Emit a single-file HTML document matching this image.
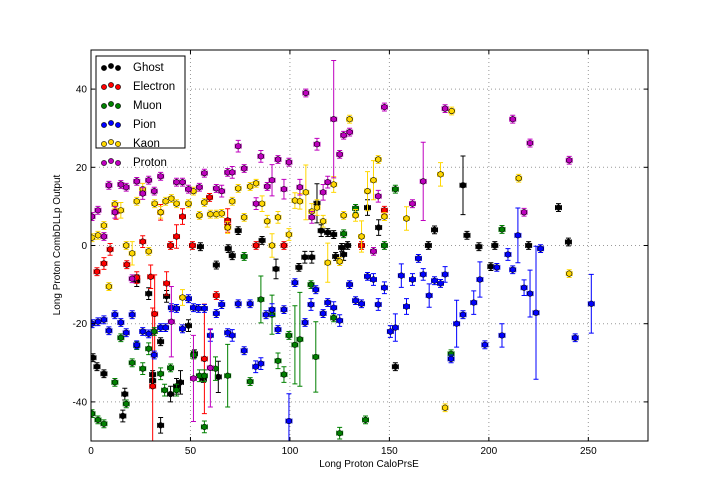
<!DOCTYPE html>
<html><head><meta charset="utf-8"><style>
html,body{margin:0;padding:0;background:#fff;}
svg{display:block;font-family:"Liberation Sans","DejaVu Sans",sans-serif;}
</style></head><body>
<svg id="chart" width="720" height="504">
<defs><clipPath id="pc"><rect x="91" y="50" width="557" height="391"/></clipPath></defs>
<rect x="0" y="0" width="720" height="504" fill="#fff"/>
<g id="grid"></g>
<g id="marks" clip-path="url(#pc)"></g>
<rect x="91" y="50" width="557" height="391" fill="none" stroke="#000" stroke-width="1"/>
<g id="axes"></g>
<text x="369" y="467" font-size="10" text-anchor="middle">Long Proton CaloPrsE</text>
<text x="60" y="245" font-size="10" text-anchor="middle" transform="rotate(-90 60 245)">Long Proton CombDLLp Output</text>
<g id="legend"></g>
</svg>
<script>
const xTicks=[0,50,100,150,200,250];
const yTicks=[-40,-20,0,20,40];
const seriesNames=["Ghost","Electron","Muon","Pion","Kaon","Proton"];
const seriesColors=["#000000","#ff0000","#008000","#0000ff","#ffd700","#bf00bf"];
const ghost=[[1,-28.7,1],[3,-31,1],[6.5,-32.8,1],[16,-43.6,1.5],[17,-38,1.5],[23,-9,1.5],[29,-12.3,1.5],[31,-33,1],[31,-34.6,1],[35,-46,2],[35,-24.6,1],[38,-13,1.5],[40,-38,2],[43,-36,2],[45,-35,3],[49,-20.5,1.5],[52,-27.7,1],[55,-0.3,1],[56.5,-34,1],[63,-5,1],[64,-33.6,4],[69,-0.8,1],[71,-2.6,1],[74,3.8,1],[86,1.3,1],[93,-6,2.5],[104.5,-5.6,1],[107.5,-3,1.5],[111,-3,1.5],[113.6,10.8,5],[115.7,3.8,1.5],[119,3.3,1],[122,2.8,1],[123,-2.8,1],[127,-2.3,1.5],[126,-0.5,1],[129,0,1],[139,9.7,2],[144.6,4.6,2],[153,-31,1],[172.7,4,1],[169.6,0,1],[187,15.4,7.5],[189,2.6,1],[195,-0.3,1],[201,-5.4,1],[203,0,1],[220,0,1],[235,9.7,1],[240,0.9,1]];
const electron=[[3,-6.7,1],[6.5,-4.6,1.5],[9.6,-1,1.5],[12.6,8.7,2],[18,-4.9,1],[23,-8.2,1.5],[26,1,1.5],[30,-8,3],[31,-36,20],[35,8.5,2],[38,-9.7,3],[32,-17.5,10],[40,0,1],[43,2.3,3],[46,7.4,2],[51,0,1],[57,-29,14],[59.6,12.3,1],[63,-12.8,1],[68.7,6.4,3],[68.7,5,1],[83,0,1],[97,0,1],[136,0,1],[147.5,9,1]];
const muon=[[0.5,-43,1],[3.5,-44.6,1],[6.5,-45.6,1],[12,-35,1],[15,-23.6,1],[17.7,-40.5,1],[20.7,-30,1],[23,-25.6,1],[26,-31.5,1.5],[29,-26.4,1.5],[31.8,-22,1],[35,-32.8,1.5],[37,-37,1.5],[40,-31.3,1],[43,-37,1.5],[51.6,-28,1],[54.5,-33.3,1.5],[57,-46.4,1.5],[57,-33.3,1.5],[62.6,-31.5,3],[68.7,-33.3,8],[77,-2.8,1],[80,-34.8,1],[85.4,-13.8,6],[91,-17.7,5],[94,-29.5,2],[97,-33,2],[99.5,-23,1],[102.5,-25.4,10],[105,-24,12],[110.6,-10,1],[113,-28.5,9],[122,-18.5,1],[125,-48,1.5],[127,3,1],[133,9.5,1],[138,-44.6,1],[153,14.4,1],[147.5,0,1],[206.6,4.1,1],[181,-27.7,1]];
const pion=[[0.5,-20,1],[3.5,-19.5,1],[6.5,-19,1],[9,-21.8,1],[12,-17.7,1],[15,-19.7,1],[17.7,-22.3,1],[20.7,-17.7,1],[23,-25.4,1],[26,-22,1],[29,-22.6,1],[31.8,-28,1],[35,-21,1],[37.5,-21,1],[40.4,-15.9,1],[43,-16.1,1],[46,-21.3,1],[49,-13.6,1],[51.5,-15.9,1],[54,-16.1,1],[57,-16.1,1],[60,-23,1.5],[63,-17.4,1],[65.7,-15.1,1],[68.7,-22.3,1],[71,-23,1.5],[74,-14.9,1],[77,-26.9,1],[80,-14.9,1],[82.8,-31,1.5],[85.4,-30.2,1.5],[88,-17.7,1],[91,-16.4,1.5],[94,-21.5,1],[97,-16.4,1],[99.5,-44.9,7],[102.5,-9.5,1],[107.6,-19.7,1],[110.6,-15.1,1.5],[113,-11.3,1],[116.7,-17.4,1],[119,-14.6,1],[122,-15.9,1.5],[125,-19.2,1.5],[130,-10,1],[133,-14.1,1],[136,-14.9,1],[139,-7.9,1],[142,-8.7,1.5],[144.4,-15.1,1.5],[147.5,-10.8,1.5],[150.5,-22,1.5],[153,-21,3.5],[156,-7.7,3],[158.6,-15.6,2],[161.6,-8.7,1.5],[164.6,-3.3,1],[167,-7.4,1.5],[170,-12.8,3],[172.7,-9,1],[175.7,-9.7,1],[178,-7.4,2],[183.8,-20,6],[187,-17.7,1],[181,-29,1],[192.4,-14.6,3],[195.5,-8.7,4.5],[198,-25.4,1],[204,-5.6,1],[206.6,-23,3],[209.6,-2.3,1.5],[212,-6.2,1],[214.6,2.6,7],[217.7,-10.8,2],[220.7,-12.3,6],[223.7,-17.2,17],[226,-0.8,1],[243.4,-23.6,1],[251.5,-14.9,7.5]];
const kaon=[[0.5,2,1],[3.5,2.6,1],[6.5,5.1,1],[9,-10.5,1],[12,10.5,1],[15,9,2],[17.7,0,1],[20.7,-2,3],[23,11.3,1],[26,14.4,1.5],[29,-1.5,1],[32,10.7,1],[35,8.5,1.5],[37.5,11.3,1],[40.4,12,1],[43,10.7,1],[46,-13.3,2],[49,10.7,1],[51.5,13.9,1],[54.5,7.7,1],[57,11,1],[60,8,1],[63,8,1],[65.7,8.2,1],[68.7,4.6,1.5],[71,11.3,1],[74,14.6,1],[77,7.2,1],[80,15.1,1],[83,15.9,1],[86,10.7,2],[88.6,6.2,1.5],[91,0,3],[94,7.2,1.5],[99.5,2.8,1.5],[102.5,11.5,2],[105,11.3,2],[108,13.6,7],[111,8.7,2],[113.6,9.7,2],[116.7,6.2,1.5],[119,-4.4,5],[122,15.6,2],[125,-4.1,1],[127,7.7,1],[130,32.3,1],[133,7.7,1.5],[136,2.3,4],[139,13.9,5],[142,16.7,5],[144.4,22,1],[147.5,7.4,1],[158.6,6.9,3],[175.7,18.2,3],[181.3,34.4,1],[178,-41.5,1],[215,17.2,1],[240.4,-7.2,1]];
const proton=[[0.5,7.4,1],[3.5,9,1],[6.5,2.3,1],[9,15.4,1],[12,8.5,1.5],[15,15.6,1],[17.7,14.9,1],[20.7,-8.5,1],[23,16.4,1],[26,13.3,1.5],[29,16.7,1],[31.8,13.9,1],[35,17.7,1],[40.4,-19.5,9],[43,16.2,1],[46,16.2,1],[49,14.4,1],[51.5,-34,11],[54.5,14.9,1],[57,18.5,1],[60,-31.3,10],[63,14.6,1],[65.7,13.9,1.5],[68.7,18.7,1],[71,18.7,1.5],[74,25.4,1.5],[77,19.7,1],[83,10.7,1.5],[85.4,22.8,1.5],[88.6,15.1,1],[91,16.7,4],[94,22,1],[97,14.4,2.5],[99.5,21.3,1],[105,14.9,2],[108,39,1],[111,7.2,1.5],[113.6,25.9,1.5],[116.7,13.6,2],[119,16.2,1.5],[122,32.3,15],[125,23.3,1],[127,28.2,1],[130,29,1],[147.5,35.4,1],[144.4,12.6,1.5],[142,-1.5,1],[161.6,10.7,1],[167,16.4,10],[178,35,1],[212,32.3,1],[217.7,8.5,1],[220.7,26.2,1],[240.4,21.8,1]];
const allSeries=[ghost,electron,muon,pion,kaon,proton];

const X0=91,X1=648,Y0=441,Y1=50,XMIN=0,XMAX=280,YMIN=-50,YMAX=50;
function sx(v){return X0+(v-XMIN)/(XMAX-XMIN)*(X1-X0);}
function sy(v){return Y0-(v-YMIN)/(YMAX-YMIN)*(Y0-Y1);}
const NS="http://www.w3.org/2000/svg";
function mk(tag,attrs,parent){const e=document.createElementNS(NS,tag);for(const k in attrs)e.setAttribute(k,attrs[k]);parent.appendChild(e);return e;}
const grid=document.getElementById('grid'),axes=document.getElementById('axes'),marks=document.getElementById('marks'),legend=document.getElementById('legend');
xTicks.forEach(t=>{const x=sx(t);
 const g=mk('line',{x1:x,x2:x,y1:Y1,y2:Y0,stroke:'#999','stroke-dasharray':'1,3','stroke-width':1},grid);
 
 
 mk('line',{x1:x,x2:x,y1:Y0,y2:Y0-4,stroke:'#000'},axes);
 mk('line',{x1:x,x2:x,y1:Y1,y2:Y1+4,stroke:'#000'},axes);
 const l=mk('text',{x:x,y:Y0+13,'font-size':10,'text-anchor':'middle'},axes);l.textContent=t;
 
 
});
yTicks.forEach(t=>{const y=sy(t);
 const g=mk('line',{x1:X0,x2:X1,y1:y,y2:y,stroke:'#999','stroke-dasharray':'1,3','stroke-width':1},grid);
 
 
 mk('line',{x1:X0,x2:X0+4,y1:y,y2:y,stroke:'#000'},axes);
 mk('line',{x1:X1,x2:X1-4,y1:y,y2:y,stroke:'#000'},axes);
 const l=mk('text',{x:X0-4,y:y+3.5,'font-size':10,'text-anchor':'end'},axes);l.textContent=t;
 
 
});
allSeries.forEach((data,si)=>{const c=seriesColors[si];
 const g=mk('g',{},marks);
 
 
 data.forEach(p=>{const x=sx(p[0]),y=sy(p[1]),ya=sy(p[1]+p[2]),yb=sy(p[1]-p[2]);
  const xa=sx(p[0]-1.5),xb=sx(p[0]+1.5);
  mk('path',{d:`M${x},${ya}V${yb}M${x-2.5},${ya}H${x+2.5}M${x-2.5},${yb}H${x+2.5}M${xa},${y}H${xb}M${xa},${y-2.5}V${y+2.5}M${xb},${y-2.5}V${y+2.5}`,stroke:c,'stroke-width':1,fill:'none'},g);
  const m=mk('circle',{cx:x,cy:y,r:2.8,fill:c,stroke:'#000','stroke-width':0.6},g);
  
  
 });
});
mk('rect',{x:96,y:56,width:89,height:92,fill:'#fff',stroke:'#000','stroke-width':1},legend);
seriesNames.forEach((n,i)=>{const y=67+i*19;
 const e=mk('g',{},legend);
 
 
 [104,111,118].forEach((x,j)=>mk('circle',{cx:x,cy:y+(j==1?-1:1),r:2.6,fill:seriesColors[i],stroke:'#000','stroke-width':0.6},e));
 const t=mk('text',{x:133,y:y+4,'font-size':11.5},e);t.textContent=n;
});
</script>
</body></html>
